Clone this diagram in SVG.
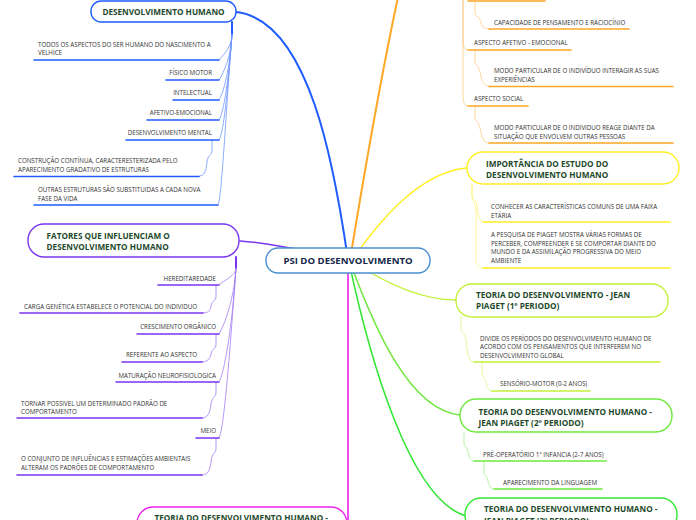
<svg xmlns="http://www.w3.org/2000/svg" width="696" height="520" viewBox="0 0 696 520">
<style>
.t{font-family:"Open Sans","Liberation Sans",sans-serif;font-size:6.2px;fill:#333}
.h{font-family:"Open Sans","Liberation Sans",sans-serif;font-size:8.2px;font-weight:bold;fill:#1e4a2c}
.c{font-family:"Open Sans","Liberation Sans",sans-serif;font-size:9.6px;font-weight:bold;fill:#15264a}
.box{fill:#fff;stroke-width:1.4}
.u{fill:none;stroke-width:1.6;stroke-linecap:round}
.l{fill:none;stroke-width:0.8}
.m{fill:none;stroke-linecap:round}
.bl{stroke:#1f5cff}.blt{stroke:#6f97ff}
.pu{stroke:#7a35f0}.put{stroke:#a37cf5}
.or{stroke:#ffa726}.ort{stroke:#ffcc80}
.ye{stroke:#ffee22}.yet{stroke:#fff27a}
.li{stroke:#c5f03a}.lit{stroke:#dcf78a}
.gr{stroke:#6ee83c}.grt{stroke:#a5f08a}
.g3{stroke:#33e633}
.mg{stroke:#ee22ee}
</style>
<rect width="696" height="520" fill="#fff"/>
<g id="connectors">
<path class="m bl" stroke-width="2" d="M348,260 C335,170 310,20 236,12"/>
<path class="m or" stroke-width="2" d="M350,260 C368,150 388,40 404,-30"/>
<path class="m ye" stroke-width="1.5" d="M352,260 C380,220 420,172 467,168"/>
<path class="m li" stroke-width="1.5" d="M350,260 C380,280 420,300 456,300"/>
<path class="m gr" stroke-width="1.5" d="M350,262 C375,330 410,410 460,415"/>
<path class="m g3" stroke-width="1.5" d="M349,262 C370,360 410,500 466,516"/>
<path class="m pu" stroke-width="1.5" d="M348,260 C300,250 270,243 240,241"/>
<path class="m mg" stroke-width="1.6" d="M348,260 V530"/>
<!-- blue sub -->
<path class="m bl" stroke-width="2" d="M232,22 V34"/>
<path class="l blt" d="M232,34 C232,47 224,54 219,60"/>
<path class="l blt" d="M232,34 C231,57 224,72 219,80"/>
<path class="l blt" d="M232,34 C230,67 224,92 219,100"/>
<path class="l blt" d="M232,34 C229,77 224,112 219,120"/>
<path class="l blt" d="M232,34 C228,87 224,132 219,140"/>
<path class="l blt" d="M232,34 C226,110 222,195 218,205"/>
<path class="l blt" d="M212,140 V150 C212,156 208,154 207,162 C206,172 204,176 199,176"/>
<!-- purple sub -->
<path class="m pu" stroke-width="2" d="M236,257 V268"/>
<path class="l put" d="M236,268 C236,276 224,280 219,285"/>
<path class="l put" d="M236,268 C234,300 224,326 219,334"/>
<path class="l put" d="M236,268 C232,330 224,374 219,382"/>
<path class="l put" d="M236,268 C230,350 224,430 219,438"/>
<path class="l put" d="M216,285 V296 C216,302 212,300 211,306 C210,311 208,313 203,313"/>
<path class="l put" d="M216,334 V344 C216,350 212,348 211,354 C210,359 207,362 202,362"/>
<path class="l put" d="M216,382 V392 C216,398 212,396 211,404 C210,414 207,418 202,418"/>
<path class="l put" d="M216,438 V448 C216,454 212,452 211,462 C210,471 207,475 202,475"/>
<!-- orange sub -->
<path class="l ort" d="M463,-10 V40 C463,47 465,50 468,50"/>
<path class="l ort" d="M463,-10 V96 C463,103 465,106 468,106"/>
<path class="l ort" d="M475,2 V12 C475,17 479,16 480,20 C482,27 484,29 489,29"/>
<path class="l ort" d="M475,50 V60 C475,66 479,65 480,72 C482,83 484,86 489,86"/>
<path class="l ort" d="M475,106 V116 C475,122 479,121 480,128 C482,139 484,143 489,143"/>
<!-- yellow sub -->
<path class="l yet" d="M472,184 V194 C472,200 476,198 477,206 C478,217 480,222 483,222"/>
<path class="l yet" d="M472,184 V196 C472,202 475,200 476,210 V258 C476,265 479,268 483,268"/>
<!-- lime sub -->
<path class="l lit" d="M461,316 V328 C461,334 465,332 466,340 C467,355 469,362 474,362"/>
<path class="l lit" d="M482,362 V373 C482,379 485,377 486,382 C487,388 489,391 492,391"/>
<!-- green sub -->
<path class="l grt" d="M464,432 V442 C464,448 467,446 468,452 C469,458 471,461 474,461"/>
<path class="l grt" d="M484,461 V471 C484,477 487,475 488,481 C489,486 491,489 494,489"/>
</g>
<g id="center"><rect class="box" x="266" y="248" width="164" height="25" rx="12" stroke="#4a8fd0"/><text class="c" x="348" y="264" text-anchor="middle">PSI DO DESENVOLVIMENTO</text></g>
<g id="n-desenv"><rect class="box bl" x="91" y="1" width="145" height="21" rx="10"/><text class="h" x="163.5" y="15" text-anchor="middle">DESENVOLVIMENTO HUMANO</text></g>
<g id="b1"><text class="t" x="38" y="47">TODOS OS ASPECTOS DO SER HUMANO DO NASCIMENTO A</text><text class="t" x="38" y="55">VELHICE</text><path class="u bl" d="M34,60 H219"/></g>
<g id="b2"><text class="t" x="212" y="75" text-anchor="end">FÍSICO MOTOR</text><path class="u bl" d="M166,80 H219"/></g>
<g id="b3"><text class="t" x="212" y="95" text-anchor="end">INTELECTUAL</text><path class="u bl" d="M173,100 H219"/></g>
<g id="b4"><text class="t" x="212" y="115" text-anchor="end">AFETIVO-EMOCIONAL</text><path class="u bl" d="M147,120 H219"/></g>
<g id="b5"><text class="t" x="212" y="135" text-anchor="end">DESENVOLVIMENTO MENTAL</text><path class="u bl" d="M126,140 H219"/></g>
<g id="b6"><text class="t" x="18" y="163">CONSTRUÇÃO CONTÍNUA, CARACTERESTERIZADA PELO</text><text class="t" x="18" y="171.5">APARECIMENTO GRADATIVO DE ESTRUTURAS</text><path class="u bl" d="M14,176.5 H199"/></g>
<g id="b7"><text class="t" x="38" y="192">OUTRAS ESTRUTURAS SÃO SUBSTITUIDAS A CADA NOVA</text><text class="t" x="38" y="200.5">FASE DA VIDA</text><path class="u bl" d="M34,205 H218"/></g>
<g id="n-fatores"><rect class="box pu" x="28" y="224" width="211" height="33" rx="16"/><text class="h" x="46.5" y="238.5">FATORES QUE INFLUENCIAM O</text><text class="h" x="46.5" y="249.5">DESENVOLVIMENTO HUMANO</text></g>
<g id="p1"><text class="t" x="216" y="281" text-anchor="end">HEREDITAREDADE</text><path class="u pu" d="M158,285 H219"/></g>
<g id="p2"><text class="t" x="24" y="309">CARGA GENÉTICA ESTABELECE O POTENCIAL DO INDIVIDUO</text><path class="u pu" d="M20,313 H203"/></g>
<g id="p3"><text class="t" x="216" y="329" text-anchor="end">CRESCIMENTO ORGÂNICO</text><path class="u pu" d="M137,334 H219"/></g>
<g id="p4"><text class="t" x="126" y="357">REFERENTE AO ASPECTO</text><path class="u pu" d="M122,362 H202"/></g>
<g id="p5"><text class="t" x="216" y="377.5" text-anchor="end">MATURAÇÃO NEUROFISIOLOGICA</text><path class="u pu" d="M116,382 H219"/></g>
<g id="p6"><text class="t" x="21" y="405.5">TORNAR POSSIVEL UM DETERMINADO PADRÃO DE</text><text class="t" x="21" y="413.5">COMPORTAMENTO</text><path class="u pu" d="M17,418 H202"/></g>
<g id="p7"><text class="t" x="216" y="433" text-anchor="end">MEIO</text><path class="u pu" d="M196,438 H219"/></g>
<g id="p8"><text class="t" x="21" y="461">O CONJUNTO DE INFLUÊNCIAS E ESTIMAÇÕES AMBIENTAIS</text><text class="t" x="21" y="470">ALTERAM OS PADRÕES DE COMPORTAMENTO</text><path class="u pu" d="M17,475 H202"/></g>
<g id="n-teoria-mg"><rect class="box mg" x="137" y="507" width="210" height="34" rx="16"/><text class="h" x="154.5" y="521">TEORIA DO DESENVOLVIMENTO HUMANO -</text></g>
<g id="o0"><path class="u or" d="M468,1 H545"/></g>
<g id="o1"><text class="t" x="494" y="25">CAPACIDADE DE PENSAMENTO E RACIOCÍNIO</text><path class="u or" d="M489,29 H629"/></g>
<g id="o2"><text class="t" x="474" y="45">ASPECTO AFETIVO - EMOCIONAL</text><path class="u or" d="M468,50 H571"/></g>
<g id="o3"><text class="t" x="494" y="73">MODO PARTICULAR DE O INDIVÍDUO INTERAGIR AS SUAS</text><text class="t" x="494" y="81.5">EXPERIÊNCIAS</text><path class="u or" d="M489,86.5 H673"/></g>
<g id="o4"><text class="t" x="474" y="101">ASPECTO SOCIAL</text><path class="u or" d="M468,106 H528"/></g>
<g id="o5"><text class="t" x="494" y="129.5">MODO PARTICULAR DE O INDIVIDUO REAGE DIANTE DA</text><text class="t" x="494" y="138.5">SITUAÇÃO QUE ENVOLVEM OUTRAS PESSOAS</text><path class="u or" d="M489,143 H673"/></g>
<g id="n-importancia"><rect class="box ye" x="467" y="152" width="212" height="32" rx="16"/><text class="h" x="486" y="166.5">IMPORTÂNCIA DO ESTUDO DO</text><text class="h" x="486" y="177.5">DESENVOLVIMENTO HUMANO</text></g>
<g id="y1"><text class="t" x="491" y="209">CONHECER AS CARACTERÍSTICAS  COMUNS DE UMA FAIXA</text><text class="t" x="491" y="217.5">ETÁRIA</text><path class="u ye" d="M483,222 H670"/></g>
<g id="y2"><text class="t" x="491" y="236.5">A PESQUISA DE PIAGET MOSTRA VÁRIAS FORMAS DE</text><text class="t" x="491" y="245.5">PERCEBER, COMPREENDER E SE COMPORTAR DIANTE DO</text><text class="t" x="491" y="254">MUNDO E DA ASSIMILAÇÃO  PROGRESSIVA DO MEIO</text><text class="t" x="491" y="263">AMBIENTE</text><path class="u ye" d="M483,268 H670"/></g>
<g id="n-piaget1"><rect class="box li" x="456" y="284" width="212" height="33" rx="16"/><text class="h" x="476" y="298">TEORIA DO DESENVOLVIMENTO - JEAN</text><text class="h" x="476" y="309">PIAGET (1º PERIODO)</text></g>
<g id="l1"><text class="t" x="480" y="341">DIVIDE OS PERÍODOS DO DESENVOLVIMENTO HUMANO DE</text><text class="t" x="480" y="349">ACORDO COM OS PENSAMENTOS QUE INTERFEREM NO</text><text class="t" x="480" y="357.5">DESENVOLVIMENTO GLOBAL</text><path class="u li" d="M474,362 H660"/></g>
<g id="l2"><text class="t" x="500" y="386">SENSÓRIO-MOTOR (0-2 ANOS)</text><path class="u li" d="M492,391 H590"/></g>
<g id="n-piaget2"><rect class="box gr" x="460" y="399" width="212" height="33" rx="16"/><text class="h" x="478.5" y="414.5">TEORIA DO DESENVOLVIMENTO HUMANO -</text><text class="h" x="478.5" y="425.5">JEAN PIAGET (2º PERIODO)</text></g>
<g id="g1"><text class="t" x="483" y="456.5">PRÉ-OPERATÓRIO 1ª INFANCIA (2-7 ANOS)</text><path class="u gr" d="M474,461 H606"/></g>
<g id="g2"><text class="t" x="503" y="484.5">APARECIMENTO DA LINGUAGEM</text><path class="u gr" d="M494,489 H602"/></g>
<g id="n-piaget3"><rect class="box g3" x="465" y="498" width="212" height="33" rx="16"/><text class="h" x="484" y="512">TEORIA DO DESENVOLVIMENTO HUMANO -</text><text class="h" x="484" y="523.5">JEAN PIAGET (3º PERIODO)</text></g>
</svg>
